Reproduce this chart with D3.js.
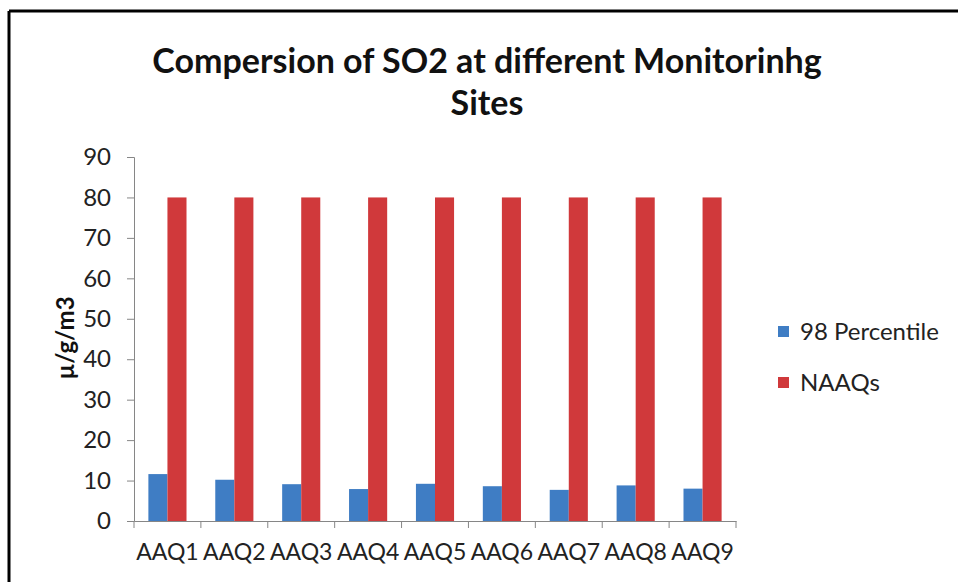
<!DOCTYPE html>
<html>
<head>
<meta charset="utf-8">
<script src="https://cdn.jsdelivr.net/npm/d3@7"></script>
<style>
  body { margin: 0; background: #fff; }
  text { font-family: Lato, "Open Sans", sans-serif; }
</style>
</head>
<body>
<div id="chart"></div>
<script>
// data
var sites = ["AAQ1", "AAQ2", "AAQ3", "AAQ4", "AAQ5", "AAQ6", "AAQ7", "AAQ8", "AAQ9"];
var percentile98 = [11.6, 10.2, 9.1, 7.9, 9.2, 8.6, 7.7, 8.8, 8.0];
var naaqs = [80, 80, 80, 80, 80, 80, 80, 80, 80];
var seriesNames = ["98 Percentile", "NAAQs"];
var yTicks = [0, 10, 20, 30, 40, 50, 60, 70, 80, 90];

var width = 958, height = 582;
var margin = { top: 157, right: 222, bottom: 61, left: 134 };
var colors = ["#3f7dc4", "#d0393b"];

var svg = d3.select("#chart")
  .append("svg")
  .attr("width", width)
  .attr("height", height);

// frame lines (only top and left show in the picture)
svg.append("line").attr("x1", 9).attr("y1", 11).attr("x2", width).attr("y2", 11)
  .style("stroke", "#000").style("stroke-width", 3);
svg.append("line").attr("x1", 9).attr("y1", 11).attr("x2", 9).attr("y2", height)
  .style("stroke", "#000").style("stroke-width", 3);

var x = d3.scaleBand()
  .domain(sites)
  .range([margin.left, width - margin.right]);

var y = d3.scaleLinear()
  .domain([0, 90])
  .range([height - margin.bottom, margin.top]);

var barW = x.bandwidth() * 0.285;
var gap = (x.bandwidth() - 2 * barW) / 2;

var rows = sites.map(function (s, i) {
  return { site: s, values: [percentile98[i], naaqs[i]] };
});

var groups = svg.selectAll("g.site")
  .data(rows)
  .enter()
  .append("g")
  .attr("class", "site");

groups.selectAll("rect")
  .data(function (d) { return d.values.map(function (v, j) { return { site: d.site, v: v, j: j }; }); })
  .enter()
  .append("rect")
  .attr("x", function (d) { return x(d.site) + gap + d.j * barW; })
  .attr("y", function (d) { return y(d.v); })
  .attr("width", barW)
  .attr("height", function (d) { return y(0) - y(d.v); })
  .style("fill", function (d) { return colors[d.j]; });

// y axis
var yAxis = svg.append("g")
  .attr("transform", "translate(" + margin.left + ",0)")
  .call(d3.axisLeft(y).tickValues(yTicks).tickSize(7).tickPadding(16));
yAxis.selectAll("text").style("font-size", "24px").style("fill", "#222");

// x axis
var xAxis = svg.append("g")
  .attr("transform", "translate(0," + y(0) + ")")
  .call(d3.axisBottom(x).tickSize(0).tickPadding(23));
xAxis.selectAll("text").style("font-size", "23px").style("fill", "#222");
xAxis.selectAll(".tick line").remove();
// category separators
xAxis.selectAll("line.sep")
  .data(sites.concat(["end"]))
  .enter()
  .append("line")
  .attr("class", "sep")
  .attr("x1", function (d, i) { return margin.left + i * x.step(); })
  .attr("x2", function (d, i) { return margin.left + i * x.step(); })
  .attr("y1", 0)
  .attr("y2", 7)
  .style("stroke", "#868686");

svg.selectAll(".domain").style("stroke", "#868686");
svg.selectAll(".tick line").style("stroke", "#868686");

// title
var title = svg.append("text")
  .attr("text-anchor", "middle")
  .style("font-size", "34px")
  .style("font-weight", "bold")
  .style("fill", "#111");
title.append("tspan").attr("x", 487).attr("y", 73).text("Compersion of SO2 at different Monitorinhg");
title.append("tspan").attr("x", 487).attr("y", 115).text("Sites");

// y axis label
svg.append("text")
  .attr("transform", "translate(74,338) rotate(-90)")
  .attr("text-anchor", "middle")
  .style("font-size", "24px")
  .style("font-weight", "bold")
  .style("fill", "#111")
  .text("\u00b5/g/m3");

// legend
var legend = svg.selectAll("g.legend")
  .data(seriesNames)
  .enter()
  .append("g")
  .attr("class", "legend")
  .attr("transform", function (d, i) { return "translate(778," + (326 + i * 51) + ")"; });

legend.append("rect")
  .attr("width", 11)
  .attr("height", 11)
  .style("fill", function (d, i) { return colors[i]; });

legend.append("text")
  .attr("x", 22)
  .attr("y", 14)
  .style("font-size", "24px")
  .style("fill", "#222")
  .text(function (d) { return d; });
</script>
</body>
</html>
